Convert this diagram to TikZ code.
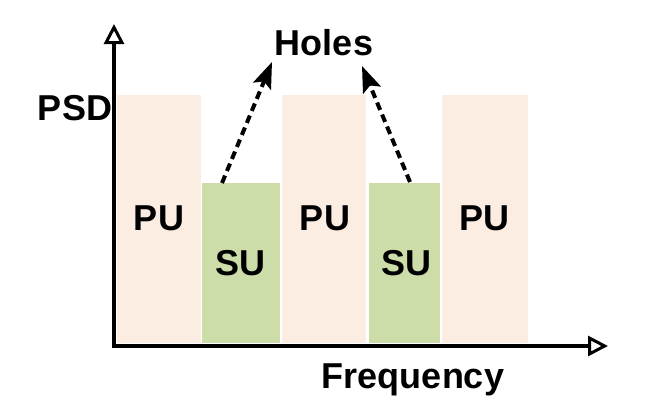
\documentclass[tikz,border=0pt]{standalone}
\usepackage{fontspec}
\setmainfont{Liberation Sans}
\usetikzlibrary{arrows.meta}
\definecolor{pucol}{HTML}{FCEDE3}
\definecolor{sucol}{HTML}{CCDDAA}
\tikzset{
  pubar/.style={fill=pucol,draw=none},
  subar/.style={fill=sucol,draw=none},
  lbl/.style={font=\bfseries\fontsize{36}{40}\selectfont, anchor=base, inner sep=0pt},
  axis/.style={line width=3.5pt, -{Triangle[open,length=20pt,width=20pt,line width=3pt,fill=white]}},
  hole/.style={line width=4pt, dash pattern=on 8pt off 5pt, -{Stealth[length=26pt,width=19pt,inset=5pt]}}
}
\begin{document}
\begin{tikzpicture}[x=1pt,y=-1pt]
\useasboundingbox (0,0) rectangle (650,413);
% bars
\fill[pubar] (117,95) rectangle (201,343);
\fill[subar] (202,183) rectangle (280,343);
\fill[pubar] (282,95) rectangle (366,343);
\fill[subar] (369,183) rectangle (440,343);
\fill[pubar] (442,95) rectangle (528,343);
% axes
\coordinate (origin) at (114,346);
\coordinate (ytip) at (114,24);
\coordinate (xtip) at (608,346);
\draw[axis] ([yshift=-1.75pt]origin) -- (ytip);
\draw[axis] ([xshift=-1.75pt]origin) -- (xtip);
% labels
\node[lbl] (psd) at (75,120) {PSD};
\node[lbl] (freq) at (413,388) {Frequency};
\node[lbl] (holes) at (324,55) {Holes};
\node[lbl] (pu1) at (159,230) {PU};
\node[lbl] (pu2) at (325,230) {PU};
\node[lbl] (pu3) at (484,230) {PU};
\node[lbl] (su1) at (240.5,275) {SU};
\node[lbl] (su2) at (406.5,275) {SU};
% arrows
\coordinate (s1) at (222,183);
\coordinate (s2) at (410,182);
\coordinate (h1) at (272,62);
\coordinate (h2) at (362,66);
\draw[hole] (s1) -- (h1);
\draw[hole] (s2) -- (h2);
\end{tikzpicture}
\end{document}
